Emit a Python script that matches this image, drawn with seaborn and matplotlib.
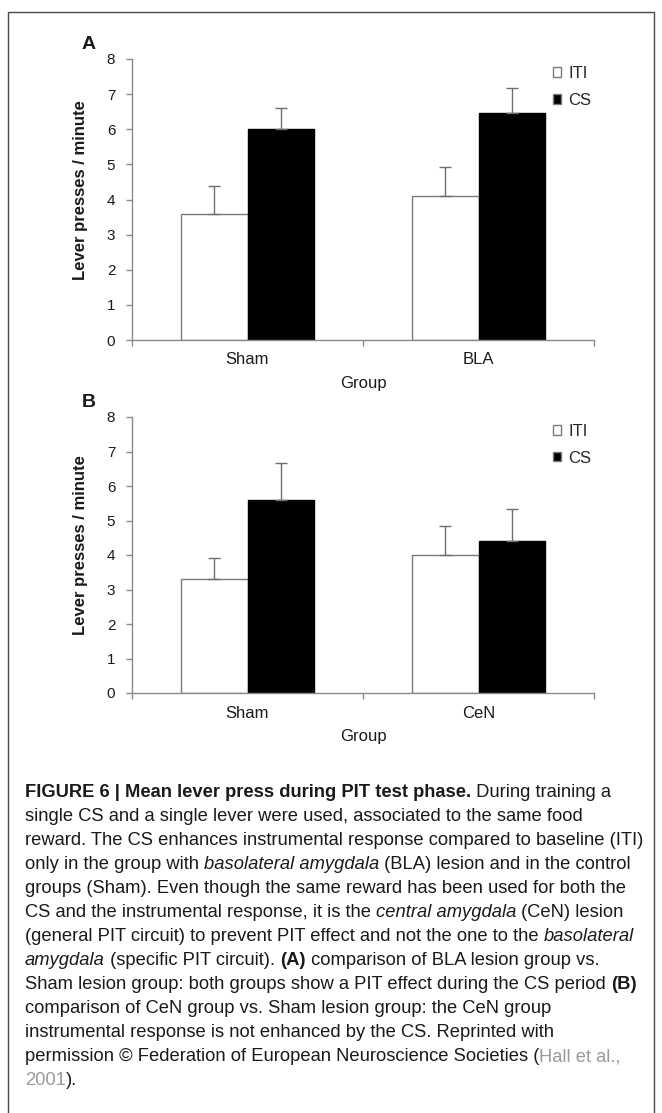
"""
PIT test phase: mean lever presses (ITI vs CS) for lesion groups, two panels
"""
import matplotlib
matplotlib.use('Agg')
import matplotlib.pyplot as plt
from matplotlib.patches import Rectangle
import seaborn as sns
import numpy as np
import pandas as pd

# ==================== Data ====================

phases = ['ITI', 'CS']

groups_a = ['Sham', 'BLA']
iti_a = [3.6, 4.1]
cs_a = [6.0, 6.45]
iti_err_a = [0.78, 0.82]
cs_err_a = [0.6, 0.73]

groups_b = ['Sham', 'CeN']
iti_b = [3.3, 4.0]
cs_b = [5.6, 4.4]
iti_err_b = [0.6, 0.83]
cs_err_b = [1.07, 0.93]

y_ticks = [0, 1, 2, 3, 4, 5, 6, 7, 8]

# ==================== Style ====================

sns.set_style('white')
plt.rcParams.update({
    'font.family': ['Liberation Sans', 'DejaVu Sans'],
    'axes.edgecolor': '#8a8a8a',
    'axes.linewidth': 1.0,
})

AXIS_GRAY = '#8a8a8a'
ERR_GRAY = '#6f6f6f'
TEXT = '#1a1a1a'

W, H = 662, 1113
fig = plt.figure(figsize=(W / 100, H / 100), dpi=100)


def px_box(x0, y_top, x1, y_bottom):
    """pixel box (top-left origin) -> figure fraction rect"""
    return [x0 / W, 1 - y_bottom / H, (x1 - x0) / W, (y_bottom - y_top) / H]


def draw_panel(ax, groups, iti, cs, iti_err, cs_err, letter):
    df = pd.DataFrame({
        'Group': groups * 2,
        'Phase': ['ITI'] * len(groups) + ['CS'] * len(groups),
        'Value': iti + cs,
    })
    sns.barplot(data=df, x='Group', y='Value', hue='Phase', hue_order=phases,
                order=groups, palette={'ITI': 'white', 'CS': 'black'},
                width=0.575, gap=0, errorbar=None, ax=ax,
                edgecolor='#7a7a7a', linewidth=1.0)

    # one-sided (upward) error bars on bar centres
    for cont, vals, errs in zip(ax.containers, [iti, cs], [iti_err, cs_err]):
        xs = [p.get_x() + p.get_width() / 2 for p in cont.patches]
        ax.errorbar(xs, vals, yerr=[np.zeros(len(errs)), errs], fmt='none',
                    ecolor=ERR_GRAY, elinewidth=1.0, capsize=4, capthick=1.0,
                    zorder=1)
    for p in ax.containers[1].patches:
        p.set_edgecolor('black')

    ax.set_ylim(0, 8)
    ax.set_xlim(-0.5, len(groups) - 0.5)
    ax.set_yticks(y_ticks)
    ax.tick_params(axis='y', direction='out', length=4, width=1,
                   color=AXIS_GRAY, pad=8, labelsize=11, labelcolor=TEXT,
                   left=True)

    # excel-like category axis: ticks at boundaries, labels at centres
    ax.set_xticks([-0.5, 0.5, 1.5])
    ax.set_xticklabels(['', '', ''])
    ax.tick_params(axis='x', which='major', direction='out', length=4,
                   width=1, color=AXIS_GRAY, bottom=True)
    ax.set_xticks(range(len(groups)), minor=True)
    ax.set_xticklabels(groups, minor=True)
    ax.tick_params(axis='x', which='minor', length=0, pad=9, labelsize=12,
                   labelcolor=TEXT)

    sns.despine(ax=ax)
    ax.set_xlabel('Group', fontsize=12, color=TEXT, labelpad=6)
    ax.set_ylabel('Lever presses / minute', fontsize=12, fontweight='bold',
                  color=TEXT)
    ax.yaxis.set_label_coords(-0.095, 0.535)

    handles, labels = ax.get_legend_handles_labels()
    ax.legend(handles, labels, loc='upper left',
              bbox_to_anchor=((553 - 132) / 462, 0.975), frameon=False,
              fontsize=12, handlelength=0.5, handleheight=0.5,
              handletextpad=0.4, labelspacing=0.7, borderaxespad=0,
              borderpad=0)

    ax.text(-0.093, 1.053, letter, transform=ax.transAxes, fontsize=14,
            fontweight='bold', color=TEXT, ha='center', va='center')


ax_a = fig.add_axes(px_box(132, 59, 594, 340))
draw_panel(ax_a, groups_a, iti_a, cs_a, iti_err_a, cs_err_a, 'A')

ax_b = fig.add_axes(px_box(132, 417, 594, 693))
draw_panel(ax_b, groups_b, iti_b, cs_b, iti_err_b, cs_err_b, 'B')

# outer frame (open at the bottom of the crop)
fig.add_artist(Rectangle((8 / W, -0.05), (654 - 8) / W, 1.05 - 12 / H,
                         transform=fig.transFigure, fill=False,
                         edgecolor='#4a4a4a', linewidth=1.0))

# ==================== Caption ====================

CAP_SIZE = 13.2
LINK_GRAY = '#9a9a9a'
caption_lines = [
    [('FIGURE 6 | Mean lever press during PIT test phase.', 'b'), (' During training a', 'r')],
    [('single CS and a single lever were used, associated to the same food', 'r')],
    [('reward. The CS enhances instrumental response compared to baseline (ITI)', 'r')],
    [('only in the group with ', 'r'), ('basolateral amygdala', 'i'),
     (' (BLA) lesion and in the control', 'r')],
    [('groups (Sham). Even though the same reward has been used for both the', 'r')],
    [('CS and the instrumental response, it is the ', 'r'), ('central amygdala', 'i'),
     (' (CeN) lesion', 'r')],
    [('(general PIT circuit) to prevent PIT effect and not the one to the ', 'r'),
     ('basolateral', 'i')],
    [('amygdala', 'i'), (' (specific PIT circuit). ', 'r'), ('(A)', 'b'),
     (' comparison of BLA lesion group vs.', 'r')],
    [('Sham lesion group: both groups show a PIT effect during the CS period ', 'r'),
     ('(B)', 'b')],
    [('comparison of CeN group vs. Sham lesion group: the CeN group', 'r')],
    [('instrumental response is not enhanced by the CS. Reprinted with', 'r')],
    [('permission \u00a9 Federation of European Neuroscience Societies (', 'r'),
     ('Hall et al.,', 'g')],
    [('2001', 'g'), (').', 'r')],
]

STYLES = {
    'r': dict(fontweight='normal', fontstyle='normal', color=TEXT),
    'b': dict(fontweight='bold', fontstyle='normal', color=TEXT),
    'i': dict(fontweight='normal', fontstyle='italic', color=TEXT),
    'g': dict(fontweight='normal', fontstyle='normal', color=LINK_GRAY),
}

renderer = fig.canvas.get_renderer()


def text_width(s, style):
    """width in px including trailing spaces (measured against a sentinel)"""
    t1 = fig.text(0, 0, s + '|', fontsize=CAP_SIZE, **STYLES[style])
    t2 = fig.text(0, 0, '|', fontsize=CAP_SIZE, **STYLES[style])
    w = t1.get_window_extent(renderer).width - t2.get_window_extent(renderer).width
    t1.remove()
    t2.remove()
    return w


x0, base0, step = 25, 797, 24
for i, line in enumerate(caption_lines):
    x = x0
    y = base0 + i * step
    for seg, style in line:
        fig.text(x / W, 1 - y / H, seg, fontsize=CAP_SIZE, va='baseline',
                 ha='left', **STYLES[style])
        x += text_width(seg, style)

fig.savefig('out.png', dpi=100)
